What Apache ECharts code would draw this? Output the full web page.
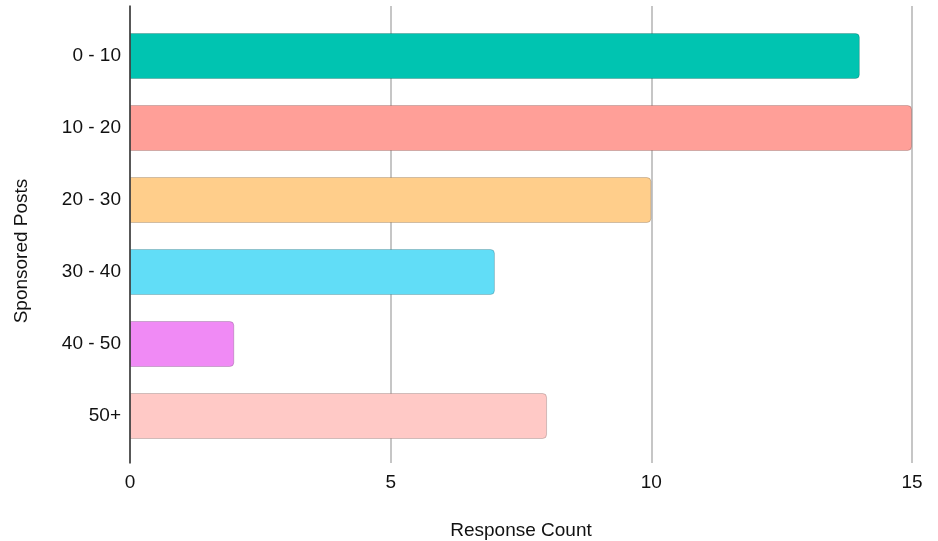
<!DOCTYPE html>
<html>
<head>
<meta charset="utf-8">
<script src="https://cdn.jsdelivr.net/npm/echarts@6/dist/echarts.min.js"></script>
<style>
  html, body { margin: 0; padding: 0; background: #ffffff; }
  #chart { width: 938px; height: 541px; }
</style>
</head>
<body>
<div id="chart"></div>
<script>
// Number of sponsored posts (buckets) vs. how many respondents chose each
const categories = ['0 - 10', '10 - 20', '20 - 30', '30 - 40', '40 - 50', '50+'];
const responseCounts = [14, 15, 10, 7, 2, 8];
const barColors = ['#00C4B1', '#FF9F98', '#FFCE8B', '#61DDF7', '#F08AF5', '#FFC9C6'];
const xTicks = { min: 0, max: 15, interval: 5 };

const FONT = '"Liberation Sans", Arial, Helvetica, sans-serif';
const TEXT = '#111111';
const FS = 19;

const chart = echarts.init(document.getElementById('chart'), null, { renderer: 'canvas' });

chart.setOption({
  animation: false,
  backgroundColor: '#ffffff',
  textStyle: { fontFamily: FONT },
  grid: [
    // frame: gridlines, value labels, left axis line
    { left: 130, right: 26, top: 6, bottom: 78, containLabel: false, outerBoundsMode: 'none' },
    // bars and category labels
    { left: 130, right: 26, top: 20, bottom: 89, containLabel: false, outerBoundsMode: 'none' }
  ],
  xAxis: [
    {
      gridIndex: 0,
      type: 'value',
      min: xTicks.min,
      max: xTicks.max,
      interval: xTicks.interval,
      name: 'Response Count',
      nameLocation: 'middle',
      nameGap: 58,
      nameTextStyle: { fontSize: FS, color: TEXT, fontFamily: FONT },
      axisLine: { show: false },
      axisTick: { show: false },
      axisLabel: { fontSize: FS, color: TEXT, margin: 10, fontFamily: FONT },
      splitLine: { show: true, lineStyle: { color: '#c6c6c6', width: 2 } }
    },
    {
      gridIndex: 1,
      type: 'value',
      min: xTicks.min,
      max: xTicks.max,
      show: false
    }
  ],
  yAxis: [
    {
      gridIndex: 0,
      type: 'value',
      min: 0,
      max: 1,
      z: 10,
      axisLine: { show: true, onZero: false, lineStyle: { color: '#333333', width: 1.5 } },
      axisTick: { show: false },
      axisLabel: { show: false },
      splitLine: { show: false }
    },
    {
      gridIndex: 1,
      type: 'category',
      data: categories,
      inverse: true,
      axisLine: { show: false },
      axisTick: { show: false },
      axisLabel: { fontSize: FS, color: TEXT, margin: 9, fontFamily: FONT },
      splitLine: { show: false }
    }
  ],
  graphic: [
    {
      type: 'text',
      x: 22,
      y: 251,
      rotation: Math.PI / 2,
      style: {
        text: 'Sponsored Posts',
        fill: TEXT,
        font: FS + 'px ' + FONT,
        align: 'center',
        verticalAlign: 'middle'
      }
    }
  ],
  series: [
    {
      type: 'bar',
      xAxisIndex: 1,
      yAxisIndex: 1,
      barWidth: 46,
      data: responseCounts.map((v, i) => ({
        value: v,
        itemStyle: {
          color: barColors[i],
          borderColor: 'rgba(0,0,0,0.18)',
          borderWidth: 1,
          borderRadius: [0, 4, 4, 0]
        }
      }))
    }
  ]
});
</script>
</body>
</html>
